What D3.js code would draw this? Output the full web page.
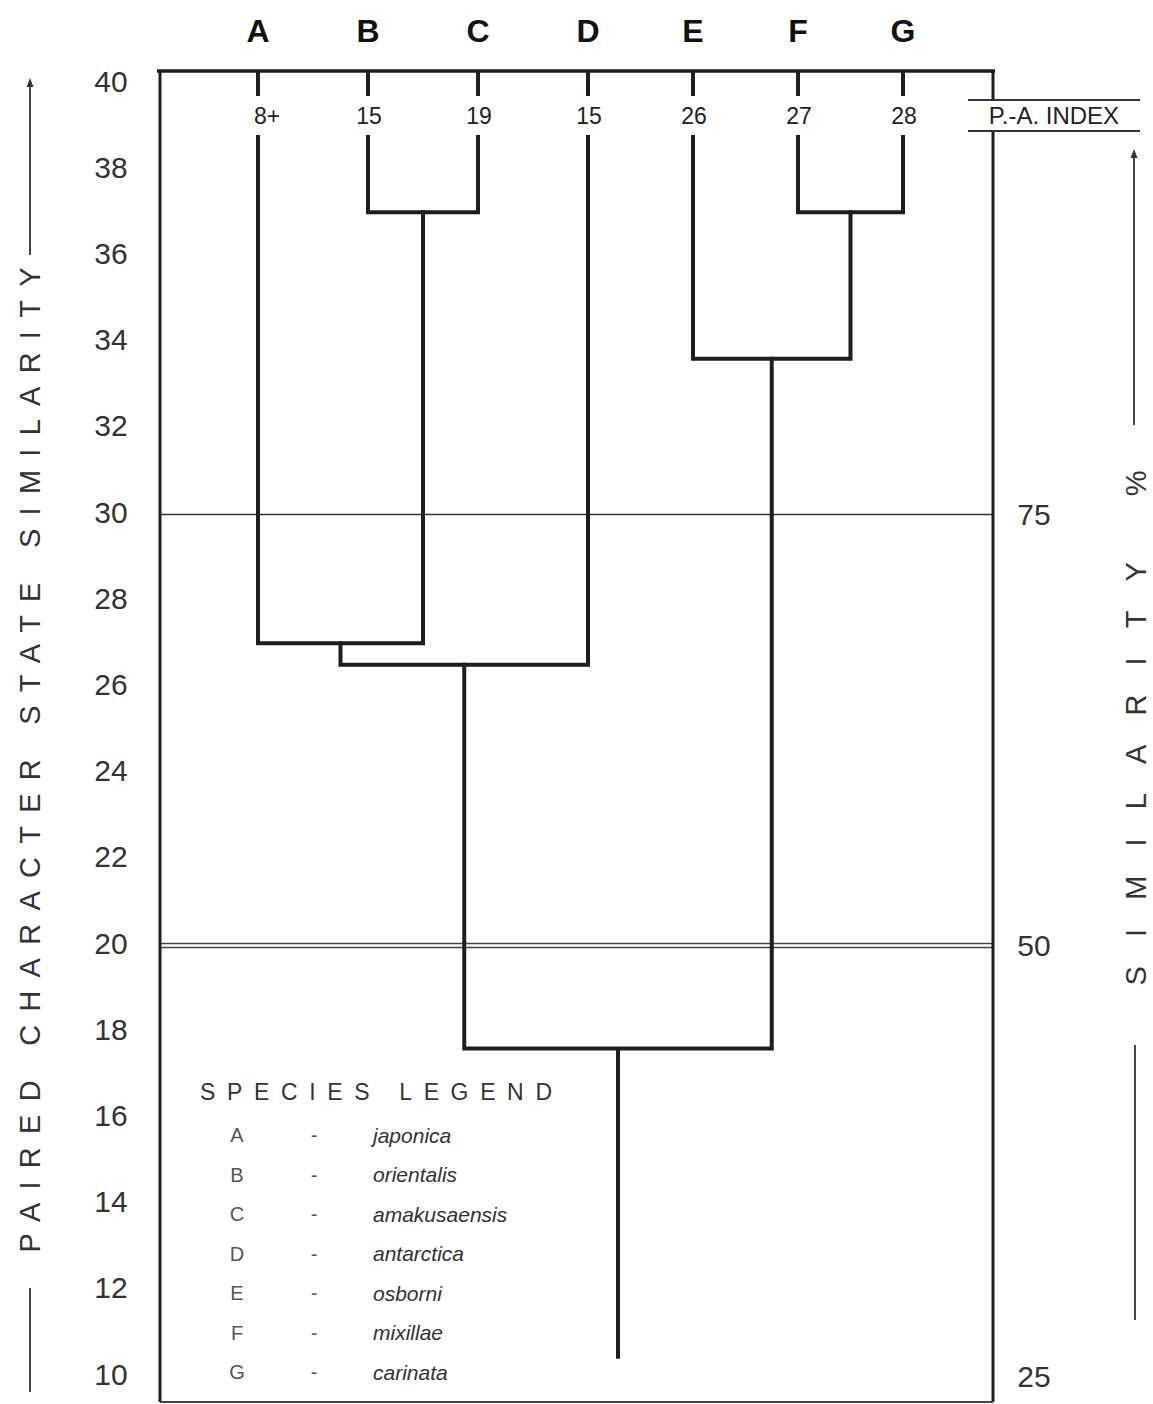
<!DOCTYPE html>
<html><head><meta charset="utf-8">
<script src="https://cdn.jsdelivr.net/npm/d3@7"></script>
<style>html,body{margin:0;padding:0;background:#fff;}</style>
</head><body>
<script>
// ---- data ----
const leaves = ["A","B","C","D","E","F","G"];
const indexLabels = ["8+","15","19","15","26","27","28"];
const speciesNames = ["japonica","orientalis","amakusaensis","antarctica","osborni","mixillae","carinata"];
// merges: [left, right, similarity level]
const merges = [
  ["B","C",37],
  ["F","G",37],
  ["A","BC",27],
  ["ABC","D",26.5],
  ["E","FG",33.6],
  ["ABCD","EFG",17.6]
];
const rootBase = 10.4;
const leafTop = 38.75;
const leftTicks = [40,38,36,34,32,30,28,26,24,22,20,18,16,14,12,10];
const rightTicks = [75,50,25];
const refLines = [30];
const doubleRefLines = [20];

// ---- layout ----
const W = 1153, H = 1404;
const svg = d3.select("body").append("svg").attr("width",W).attr("height",H)
  .style("font-family","'Liberation Sans', Arial, sans-serif");

const y = d3.scaleLinear().domain([10,40]).range([1376,83]);
const yR = d3.scaleLinear().domain([25,100]).range([1376,83]);
const xi = d3.scaleLinear().domain([0,3,6]).range([258,588,903]);
const x = l => xi(leaves.indexOf(l));

const frameL = 160, frameR = 993, frameT = 71, frameB = 1402;
const ink = "#1e1e1e";

// reference lines
refLines.forEach(v=>{
  svg.append("line").attr("x1",frameL).attr("x2",frameR).attr("y1",Math.round(y(v))+0.5).attr("y2",Math.round(y(v))+0.5)
    .attr("stroke","#333").attr("stroke-width",1.3);
});
doubleRefLines.forEach(v=>{
  [-2,2].forEach(o=>svg.append("line").attr("x1",frameL).attr("x2",frameR)
    .attr("y1",Math.round(y(v))+o+0.5).attr("y2",Math.round(y(v))+o+0.5).attr("stroke","#444").attr("stroke-width",1.3));
});

// frame
svg.append("line").attr("x1",frameL-3).attr("x2",frameR+2).attr("y1",frameT).attr("y2",frameT)
  .attr("stroke",ink).attr("stroke-width",3.5);
svg.append("line").attr("x1",frameL).attr("x2",frameL).attr("y1",frameT).attr("y2",frameB)
  .attr("stroke",ink).attr("stroke-width",3);
svg.append("line").attr("x1",frameR).attr("x2",frameR).attr("y1",frameT).attr("y2",100)
  .attr("stroke",ink).attr("stroke-width",3);
svg.append("line").attr("x1",frameR).attr("x2",frameR).attr("y1",131).attr("y2",frameB)
  .attr("stroke",ink).attr("stroke-width",3);
svg.append("line").attr("x1",frameL).attr("x2",frameR).attr("y1",frameB).attr("y2",frameB)
  .attr("stroke","#444").attr("stroke-width",2);

// top letters
svg.selectAll(".leafLetter").data(leaves).enter().append("text")
  .attr("x",d=>x(d)).attr("y",31).attr("text-anchor","middle").attr("dominant-baseline","central")
  .attr("font-size",32).attr("font-weight","bold").attr("fill","#111").text(d=>d);

// tick stubs
svg.selectAll(".stub").data(leaves).enter().append("line")
  .attr("x1",d=>x(d)).attr("x2",d=>x(d)).attr("y1",frameT).attr("y2",96)
  .attr("stroke",ink).attr("stroke-width",4);

// index labels
svg.selectAll(".idx").data(leaves).enter().append("text")
  .attr("x",(d,i)=>x(d)+(i===0?9:1)).attr("y",116).attr("text-anchor","middle").attr("dominant-baseline","central")
  .attr("font-size",23).attr("fill","#222").text((d,i)=>indexLabels[i]);

// P.-A. INDEX
svg.append("text").attr("x",1054).attr("y",115).attr("text-anchor","middle").attr("dominant-baseline","central")
  .attr("font-size",24).attr("fill","#222").text("P.-A. INDEX");
[100,131].forEach(yy=>svg.append("line").attr("x1",968).attr("x2",1140).attr("y1",yy).attr("y2",yy)
  .attr("stroke","#333").attr("stroke-width",1.8));

// dendrogram
const nodes = {};
leaves.forEach(l=>nodes[l]={x:x(l), v:leafTop});
const g = svg.append("g").attr("fill","none").attr("stroke",ink).attr("stroke-width",4)
  .attr("stroke-linejoin","miter").attr("stroke-linecap","square");
merges.forEach(([a,b,v])=>{
  const na = nodes[a], nb = nodes[b];
  const p = d3.path();
  p.moveTo(na.x, y(na.v)); p.lineTo(na.x, y(v)); p.lineTo(nb.x, y(v)); p.lineTo(nb.x, y(nb.v));
  g.append("path").attr("d",p.toString());
  nodes[a+b] = {x:(na.x+nb.x)/2, v:v};
});
const root = nodes[merges[merges.length-1][0]+merges[merges.length-1][1]];
g.append("line").attr("x1",root.x).attr("x2",root.x).attr("y1",y(root.v)).attr("y2",y(rootBase))
  .attr("stroke-linecap","butt");

// left tick labels
svg.selectAll(".lt").data(leftTicks).enter().append("text")
  .attr("x",111).attr("y",d=>y(d)-2).attr("text-anchor","middle").attr("dominant-baseline","central")
  .attr("font-size",30).attr("fill","#333").text(d=>d);

// right tick labels
svg.selectAll(".rt").data(rightTicks).enter().append("text")
  .attr("x",1034).attr("y",d=>yR(d)).attr("text-anchor","middle").attr("dominant-baseline","central")
  .attr("font-size",30).attr("fill","#333").text(d=>d);

// arrows
function arrow(xp, yTop, yBot){
  svg.append("line").attr("x1",xp).attr("x2",xp).attr("y1",yBot).attr("y2",yTop+6)
    .attr("stroke","#333").attr("stroke-width",1.8);
  svg.append("path").attr("d",`M${xp-3.5},${yTop+9} L${xp},${yTop} L${xp+3.5},${yTop+9} Z`).attr("fill","#333");
}
function bar(xp, y1, y2){
  svg.append("line").attr("x1",xp).attr("x2",xp).attr("y1",y1).attr("y2",y2)
    .attr("stroke","#333").attr("stroke-width",1.8);
}

// left axis title
arrow(30, 78, 255);
bar(30, 1288, 1392);
svg.append("text").attr("transform","translate(30,760) rotate(-90)")
  .attr("text-anchor","middle").attr("dominant-baseline","central")
  .attr("font-size",29).attr("fill","#333")
  .attr("textLength",985).attr("lengthAdjust","spacing")
  .text("PAIRED CHARACTER STATE SIMILARITY");

// right axis title
arrow(1134, 149, 425);
bar(1135, 1045, 1320);
svg.append("text").attr("transform","translate(1136,728) rotate(-90)")
  .attr("text-anchor","middle").attr("dominant-baseline","central")
  .attr("font-size",29).attr("fill","#333")
  .attr("textLength",515).attr("lengthAdjust","spacing")
  .text("SIMILARITY %");

// legend
svg.append("text").attr("x",200).attr("y",1092).attr("dominant-baseline","central")
  .attr("font-size",23).attr("fill","#333")
  .attr("textLength",352).attr("lengthAdjust","spacing").text("SPECIES LEGEND");
const lg = svg.selectAll(".lg").data(leaves).enter().append("g")
  .attr("transform",(d,i)=>`translate(0,${1135+i*39.5})`);
lg.append("text").attr("x",237).attr("dominant-baseline","central").attr("text-anchor","middle")
  .attr("font-size",20).attr("fill","#555").text(d=>d);
lg.append("text").attr("x",314).attr("dominant-baseline","central").attr("text-anchor","middle")
  .attr("font-size",20).attr("fill","#555").text("-");
lg.append("text").attr("x",373).attr("dominant-baseline","central")
  .attr("font-size",21).attr("font-style","italic").attr("fill","#333").text((d,i)=>speciesNames[i]);
</script>
</body></html>
